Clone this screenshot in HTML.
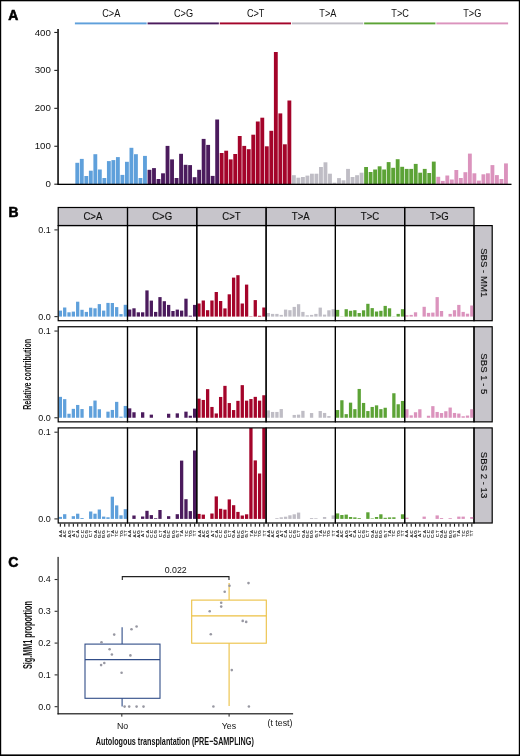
<!DOCTYPE html>
<html><head><meta charset="utf-8"><style>
html,body{margin:0;padding:0;background:#fff;}
svg{display:block;will-change:transform;}
text{font-family:"Liberation Sans", sans-serif;} .sk{stroke:#111;stroke-width:0.15px;}
</style></head><body>
<svg width="520" height="756" viewBox="0 0 520 756">
<rect x="0" y="0" width="520" height="756" fill="#fff"/>
<text x="8.3" y="20.0" font-size="13.9" text-anchor="start" font-weight="bold" fill="#000" stroke="#000" stroke-width="0.55">A</text>
<rect x="74.90" y="22.45" width="71.75" height="1.9" fill="#5fa0db"/>
<text x="111.3" y="16.7" font-size="10.2" text-anchor="middle" font-weight="normal" fill="#111" transform="translate(111.3 0) scale(0.9 1) translate(-111.3 0)">C&gt;A</text>
<rect x="75.35" y="162.80" width="3.85" height="21.40" fill="#5fa0db"/>
<rect x="79.86" y="158.90" width="3.85" height="25.30" fill="#5fa0db"/>
<rect x="84.38" y="176.00" width="3.85" height="8.20" fill="#5fa0db"/>
<rect x="88.89" y="170.70" width="3.85" height="13.50" fill="#5fa0db"/>
<rect x="93.40" y="154.20" width="3.85" height="30.00" fill="#5fa0db"/>
<rect x="97.91" y="169.50" width="3.85" height="14.70" fill="#5fa0db"/>
<rect x="102.43" y="178.00" width="3.85" height="6.20" fill="#5fa0db"/>
<rect x="106.94" y="161.10" width="3.85" height="23.10" fill="#5fa0db"/>
<rect x="111.45" y="160.10" width="3.85" height="24.10" fill="#5fa0db"/>
<rect x="115.96" y="157.10" width="3.85" height="27.10" fill="#5fa0db"/>
<rect x="120.48" y="174.90" width="3.85" height="9.30" fill="#5fa0db"/>
<rect x="124.99" y="161.80" width="3.85" height="22.40" fill="#5fa0db"/>
<rect x="129.50" y="147.80" width="3.85" height="36.40" fill="#5fa0db"/>
<rect x="134.01" y="154.20" width="3.85" height="30.00" fill="#5fa0db"/>
<rect x="138.53" y="178.00" width="3.85" height="6.20" fill="#5fa0db"/>
<rect x="143.04" y="155.90" width="3.85" height="28.30" fill="#5fa0db"/>
<rect x="147.55" y="22.45" width="71.30" height="1.9" fill="#4b1b5d"/>
<text x="183.5" y="16.7" font-size="10.2" text-anchor="middle" font-weight="normal" fill="#111" transform="translate(183.5 0) scale(0.9 1) translate(-183.5 0)">C&gt;G</text>
<rect x="147.55" y="169.80" width="3.85" height="14.40" fill="#4b1b5d"/>
<rect x="152.06" y="168.10" width="3.85" height="16.10" fill="#4b1b5d"/>
<rect x="156.58" y="179.00" width="3.85" height="5.20" fill="#4b1b5d"/>
<rect x="161.09" y="173.30" width="3.85" height="10.90" fill="#4b1b5d"/>
<rect x="165.60" y="145.90" width="3.85" height="38.30" fill="#4b1b5d"/>
<rect x="170.11" y="159.40" width="3.85" height="24.80" fill="#4b1b5d"/>
<rect x="174.63" y="178.00" width="3.85" height="6.20" fill="#4b1b5d"/>
<rect x="179.14" y="153.80" width="3.85" height="30.40" fill="#4b1b5d"/>
<rect x="183.65" y="164.80" width="3.85" height="19.40" fill="#4b1b5d"/>
<rect x="188.16" y="165.10" width="3.85" height="19.10" fill="#4b1b5d"/>
<rect x="192.68" y="177.20" width="3.85" height="7.00" fill="#4b1b5d"/>
<rect x="197.19" y="169.80" width="3.85" height="14.40" fill="#4b1b5d"/>
<rect x="201.70" y="138.90" width="3.85" height="45.30" fill="#4b1b5d"/>
<rect x="206.21" y="144.90" width="3.85" height="39.30" fill="#4b1b5d"/>
<rect x="210.73" y="175.90" width="3.85" height="8.30" fill="#4b1b5d"/>
<rect x="215.24" y="119.50" width="3.85" height="64.70" fill="#4b1b5d"/>
<rect x="219.75" y="22.45" width="71.30" height="1.9" fill="#a4042a"/>
<text x="255.7" y="16.7" font-size="10.2" text-anchor="middle" font-weight="normal" fill="#111" transform="translate(255.7 0) scale(0.9 1) translate(-255.7 0)">C&gt;T</text>
<rect x="219.75" y="153.00" width="3.85" height="31.20" fill="#a4042a"/>
<rect x="224.26" y="150.70" width="3.85" height="33.50" fill="#a4042a"/>
<rect x="228.78" y="159.40" width="3.85" height="24.80" fill="#a4042a"/>
<rect x="233.29" y="154.00" width="3.85" height="30.20" fill="#a4042a"/>
<rect x="237.80" y="136.00" width="3.85" height="48.20" fill="#a4042a"/>
<rect x="242.31" y="145.90" width="3.85" height="38.30" fill="#a4042a"/>
<rect x="246.83" y="149.20" width="3.85" height="35.00" fill="#a4042a"/>
<rect x="251.34" y="134.70" width="3.85" height="49.50" fill="#a4042a"/>
<rect x="255.85" y="121.50" width="3.85" height="62.70" fill="#a4042a"/>
<rect x="260.36" y="117.70" width="3.85" height="66.50" fill="#a4042a"/>
<rect x="264.88" y="146.30" width="3.85" height="37.90" fill="#a4042a"/>
<rect x="269.39" y="130.80" width="3.85" height="53.40" fill="#a4042a"/>
<rect x="273.90" y="52.00" width="3.85" height="132.20" fill="#a4042a"/>
<rect x="278.41" y="113.40" width="3.85" height="70.80" fill="#a4042a"/>
<rect x="282.93" y="144.30" width="3.85" height="39.90" fill="#a4042a"/>
<rect x="287.44" y="100.50" width="3.85" height="83.70" fill="#a4042a"/>
<rect x="291.95" y="22.45" width="71.30" height="1.9" fill="#bfbdc5"/>
<text x="327.9" y="16.7" font-size="10.2" text-anchor="middle" font-weight="normal" fill="#111" transform="translate(327.9 0) scale(0.9 1) translate(-327.9 0)">T&gt;A</text>
<rect x="291.95" y="175.20" width="3.85" height="9.00" fill="#bfbdc5"/>
<rect x="296.46" y="177.70" width="3.85" height="6.50" fill="#bfbdc5"/>
<rect x="300.98" y="177.00" width="3.85" height="7.20" fill="#bfbdc5"/>
<rect x="305.49" y="175.60" width="3.85" height="8.60" fill="#bfbdc5"/>
<rect x="310.00" y="173.70" width="3.85" height="10.50" fill="#bfbdc5"/>
<rect x="314.51" y="173.70" width="3.85" height="10.50" fill="#bfbdc5"/>
<rect x="319.03" y="167.00" width="3.85" height="17.20" fill="#bfbdc5"/>
<rect x="323.54" y="162.30" width="3.85" height="21.90" fill="#bfbdc5"/>
<rect x="328.05" y="173.70" width="3.85" height="10.50" fill="#bfbdc5"/>
<rect x="332.56" y="182.70" width="3.85" height="1.50" fill="#bfbdc5"/>
<rect x="337.08" y="178.10" width="3.85" height="6.10" fill="#bfbdc5"/>
<rect x="341.59" y="180.30" width="3.85" height="3.90" fill="#bfbdc5"/>
<rect x="346.10" y="168.90" width="3.85" height="15.30" fill="#bfbdc5"/>
<rect x="350.61" y="177.00" width="3.85" height="7.20" fill="#bfbdc5"/>
<rect x="355.13" y="175.20" width="3.85" height="9.00" fill="#bfbdc5"/>
<rect x="359.64" y="172.70" width="3.85" height="11.50" fill="#bfbdc5"/>
<rect x="364.15" y="22.45" width="71.30" height="1.9" fill="#5ca336"/>
<text x="400.1" y="16.7" font-size="10.2" text-anchor="middle" font-weight="normal" fill="#111" transform="translate(400.1 0) scale(0.9 1) translate(-400.1 0)">T&gt;C</text>
<rect x="364.15" y="167.00" width="3.85" height="17.20" fill="#5ca336"/>
<rect x="368.66" y="172.00" width="3.85" height="12.20" fill="#5ca336"/>
<rect x="373.18" y="169.50" width="3.85" height="14.70" fill="#5ca336"/>
<rect x="377.69" y="166.30" width="3.85" height="17.90" fill="#5ca336"/>
<rect x="382.20" y="169.50" width="3.85" height="14.70" fill="#5ca336"/>
<rect x="386.71" y="162.10" width="3.85" height="22.10" fill="#5ca336"/>
<rect x="391.23" y="167.80" width="3.85" height="16.40" fill="#5ca336"/>
<rect x="395.74" y="159.20" width="3.85" height="25.00" fill="#5ca336"/>
<rect x="400.25" y="166.80" width="3.85" height="17.40" fill="#5ca336"/>
<rect x="404.76" y="168.90" width="3.85" height="15.30" fill="#5ca336"/>
<rect x="409.28" y="168.90" width="3.85" height="15.30" fill="#5ca336"/>
<rect x="413.79" y="163.90" width="3.85" height="20.30" fill="#5ca336"/>
<rect x="418.30" y="172.70" width="3.85" height="11.50" fill="#5ca336"/>
<rect x="422.81" y="168.90" width="3.85" height="15.30" fill="#5ca336"/>
<rect x="427.33" y="173.00" width="3.85" height="11.20" fill="#5ca336"/>
<rect x="431.84" y="161.60" width="3.85" height="22.60" fill="#5ca336"/>
<rect x="436.35" y="22.45" width="71.75" height="1.9" fill="#db93bd"/>
<text x="472.3" y="16.7" font-size="10.2" text-anchor="middle" font-weight="normal" fill="#111" transform="translate(472.3 0) scale(0.9 1) translate(-472.3 0)">T&gt;G</text>
<rect x="436.35" y="176.80" width="3.85" height="7.40" fill="#db93bd"/>
<rect x="440.86" y="180.90" width="3.85" height="3.30" fill="#db93bd"/>
<rect x="445.38" y="175.50" width="3.85" height="8.70" fill="#db93bd"/>
<rect x="449.89" y="179.50" width="3.85" height="4.70" fill="#db93bd"/>
<rect x="454.40" y="170.00" width="3.85" height="14.20" fill="#db93bd"/>
<rect x="458.91" y="178.00" width="3.85" height="6.20" fill="#db93bd"/>
<rect x="463.43" y="172.20" width="3.85" height="12.00" fill="#db93bd"/>
<rect x="467.94" y="153.60" width="3.85" height="30.60" fill="#db93bd"/>
<rect x="472.45" y="173.30" width="3.85" height="10.90" fill="#db93bd"/>
<rect x="476.96" y="180.60" width="3.85" height="3.60" fill="#db93bd"/>
<rect x="481.48" y="174.30" width="3.85" height="9.90" fill="#db93bd"/>
<rect x="485.99" y="173.30" width="3.85" height="10.90" fill="#db93bd"/>
<rect x="490.50" y="165.10" width="3.85" height="19.10" fill="#db93bd"/>
<rect x="495.01" y="175.10" width="3.85" height="9.10" fill="#db93bd"/>
<rect x="499.53" y="179.00" width="3.85" height="5.20" fill="#db93bd"/>
<rect x="504.04" y="163.40" width="3.85" height="20.80" fill="#db93bd"/>
<rect x="57.3" y="29" width="1.5" height="156" fill="#000"/>
<rect x="57.3" y="183.7" width="454.2" height="1.3" fill="#000"/>
<rect x="54.3" y="183.65" width="3.5" height="1.1" fill="#222"/>
<text x="50.8" y="187.3" font-size="9.7" text-anchor="end" font-weight="normal" fill="#111" >0</text>
<rect x="54.3" y="145.71" width="3.5" height="1.1" fill="#222"/>
<text x="50.8" y="149.36" font-size="9.7" text-anchor="end" font-weight="normal" fill="#111" >100</text>
<rect x="54.3" y="107.78" width="3.5" height="1.1" fill="#222"/>
<text x="50.8" y="111.43" font-size="9.7" text-anchor="end" font-weight="normal" fill="#111" >200</text>
<rect x="54.3" y="69.84" width="3.5" height="1.1" fill="#222"/>
<text x="50.8" y="73.49" font-size="9.7" text-anchor="end" font-weight="normal" fill="#111" >300</text>
<rect x="54.3" y="31.91" width="3.5" height="1.1" fill="#222"/>
<text x="50.8" y="35.56" font-size="9.7" text-anchor="end" font-weight="normal" fill="#111" >400</text>
<text x="8.6" y="216.7" font-size="13.9" text-anchor="start" font-weight="bold" fill="#000" stroke="#000" stroke-width="0.55">B</text>
<rect x="58.2" y="207.5" width="415.79999999999995" height="18" fill="#c7c5cb"/>
<text class="sk" x="92.85" y="219.7" font-size="10.2" text-anchor="middle" font-weight="normal" fill="#111" transform="translate(92.85 0) scale(0.94 1) translate(-92.85 0)">C&gt;A</text>
<text class="sk" x="162.15" y="219.7" font-size="10.2" text-anchor="middle" font-weight="normal" fill="#111" transform="translate(162.15 0) scale(0.94 1) translate(-162.15 0)">C&gt;G</text>
<text class="sk" x="231.45" y="219.7" font-size="10.2" text-anchor="middle" font-weight="normal" fill="#111" transform="translate(231.45 0) scale(0.94 1) translate(-231.45 0)">C&gt;T</text>
<text class="sk" x="300.75" y="219.7" font-size="10.2" text-anchor="middle" font-weight="normal" fill="#111" transform="translate(300.75 0) scale(0.94 1) translate(-300.75 0)">T&gt;A</text>
<text class="sk" x="370.05" y="219.7" font-size="10.2" text-anchor="middle" font-weight="normal" fill="#111" transform="translate(370.05 0) scale(0.94 1) translate(-370.05 0)">T&gt;C</text>
<text class="sk" x="439.35" y="219.7" font-size="10.2" text-anchor="middle" font-weight="normal" fill="#111" transform="translate(439.35 0) scale(0.94 1) translate(-439.35 0)">T&gt;G</text>
<rect x="474.00" y="225.6" width="18.2" height="95.1" fill="#c7c5cb" stroke="#000" stroke-width="1.2"/>
<text x="483.10" y="272.75" font-size="9.6" text-anchor="middle" fill="#111" class="sk" transform="rotate(90 483.10 272.75)" dy="2.6">SBS - MM1</text>
<clipPath id="cp0"><rect x="58.2" y="225.6" width="415.79999999999995" height="95.1"/></clipPath>
<g clip-path="url(#cp0)">
<rect x="58.72" y="310.60" width="3.29" height="6.00" fill="#5fa0db"/>
<rect x="63.05" y="307.50" width="3.29" height="9.10" fill="#5fa0db"/>
<rect x="67.38" y="312.30" width="3.29" height="4.30" fill="#5fa0db"/>
<rect x="71.71" y="311.60" width="3.29" height="5.00" fill="#5fa0db"/>
<rect x="76.04" y="301.70" width="3.29" height="14.90" fill="#5fa0db"/>
<rect x="80.38" y="309.80" width="3.29" height="6.80" fill="#5fa0db"/>
<rect x="84.71" y="311.90" width="3.29" height="4.70" fill="#5fa0db"/>
<rect x="89.04" y="307.70" width="3.29" height="8.90" fill="#5fa0db"/>
<rect x="93.37" y="308.30" width="3.29" height="8.30" fill="#5fa0db"/>
<rect x="97.70" y="304.10" width="3.29" height="12.50" fill="#5fa0db"/>
<rect x="102.03" y="310.60" width="3.29" height="6.00" fill="#5fa0db"/>
<rect x="106.36" y="302.90" width="3.29" height="13.70" fill="#5fa0db"/>
<rect x="110.69" y="303.00" width="3.29" height="13.60" fill="#5fa0db"/>
<rect x="115.03" y="307.10" width="3.29" height="9.50" fill="#5fa0db"/>
<rect x="119.36" y="314.10" width="3.29" height="2.50" fill="#5fa0db"/>
<rect x="123.69" y="304.80" width="3.29" height="11.80" fill="#5fa0db"/>
<rect x="128.02" y="309.50" width="3.29" height="7.10" fill="#4b1b5d"/>
<rect x="132.35" y="308.30" width="3.29" height="8.30" fill="#4b1b5d"/>
<rect x="136.68" y="312.30" width="3.29" height="4.30" fill="#4b1b5d"/>
<rect x="141.01" y="312.30" width="3.29" height="4.30" fill="#4b1b5d"/>
<rect x="145.34" y="290.40" width="3.29" height="26.20" fill="#4b1b5d"/>
<rect x="149.68" y="300.60" width="3.29" height="16.00" fill="#4b1b5d"/>
<rect x="154.01" y="311.90" width="3.29" height="4.70" fill="#4b1b5d"/>
<rect x="158.34" y="297.10" width="3.29" height="19.50" fill="#4b1b5d"/>
<rect x="162.67" y="301.20" width="3.29" height="15.40" fill="#4b1b5d"/>
<rect x="167.00" y="304.90" width="3.29" height="11.70" fill="#4b1b5d"/>
<rect x="171.33" y="311.00" width="3.29" height="5.60" fill="#4b1b5d"/>
<rect x="175.66" y="309.60" width="3.29" height="7.00" fill="#4b1b5d"/>
<rect x="179.99" y="310.60" width="3.29" height="6.00" fill="#4b1b5d"/>
<rect x="184.33" y="298.70" width="3.29" height="17.90" fill="#4b1b5d"/>
<rect x="188.66" y="315.70" width="3.29" height="0.90" fill="#4b1b5d"/>
<rect x="192.99" y="304.90" width="3.29" height="11.70" fill="#4b1b5d"/>
<rect x="197.32" y="303.50" width="3.29" height="13.10" fill="#a4042a"/>
<rect x="201.65" y="300.50" width="3.29" height="16.10" fill="#a4042a"/>
<rect x="205.98" y="310.20" width="3.29" height="6.40" fill="#a4042a"/>
<rect x="210.31" y="300.50" width="3.29" height="16.10" fill="#a4042a"/>
<rect x="214.64" y="292.00" width="3.29" height="24.60" fill="#a4042a"/>
<rect x="218.98" y="301.00" width="3.29" height="15.60" fill="#a4042a"/>
<rect x="223.31" y="308.40" width="3.29" height="8.20" fill="#a4042a"/>
<rect x="227.64" y="294.30" width="3.29" height="22.30" fill="#a4042a"/>
<rect x="231.97" y="277.60" width="3.29" height="39.00" fill="#a4042a"/>
<rect x="236.30" y="275.20" width="3.29" height="41.40" fill="#a4042a"/>
<rect x="240.63" y="303.50" width="3.29" height="13.10" fill="#a4042a"/>
<rect x="244.96" y="284.60" width="3.29" height="32.00" fill="#a4042a"/>
<rect x="249.29" y="316.30" width="3.29" height="0.30" fill="#a4042a"/>
<rect x="253.63" y="300.10" width="3.29" height="16.50" fill="#a4042a"/>
<rect x="257.96" y="315.80" width="3.29" height="0.80" fill="#a4042a"/>
<rect x="262.29" y="307.50" width="3.29" height="9.10" fill="#a4042a"/>
<rect x="266.62" y="313.00" width="3.29" height="3.60" fill="#bfbdc5"/>
<rect x="270.95" y="313.90" width="3.29" height="2.70" fill="#bfbdc5"/>
<rect x="275.28" y="313.90" width="3.29" height="2.70" fill="#bfbdc5"/>
<rect x="279.61" y="314.90" width="3.29" height="1.70" fill="#bfbdc5"/>
<rect x="283.94" y="309.60" width="3.29" height="7.00" fill="#bfbdc5"/>
<rect x="288.28" y="310.20" width="3.29" height="6.40" fill="#bfbdc5"/>
<rect x="292.61" y="306.90" width="3.29" height="9.70" fill="#bfbdc5"/>
<rect x="296.94" y="304.20" width="3.29" height="12.40" fill="#bfbdc5"/>
<rect x="301.27" y="311.90" width="3.29" height="4.70" fill="#bfbdc5"/>
<rect x="305.60" y="315.30" width="3.29" height="1.30" fill="#bfbdc5"/>
<rect x="309.93" y="314.90" width="3.29" height="1.70" fill="#bfbdc5"/>
<rect x="314.26" y="313.90" width="3.29" height="2.70" fill="#bfbdc5"/>
<rect x="318.59" y="307.60" width="3.29" height="9.00" fill="#bfbdc5"/>
<rect x="322.93" y="314.60" width="3.29" height="2.00" fill="#bfbdc5"/>
<rect x="327.26" y="310.30" width="3.29" height="6.30" fill="#bfbdc5"/>
<rect x="331.59" y="309.20" width="3.29" height="7.40" fill="#bfbdc5"/>
<rect x="335.92" y="309.90" width="3.29" height="6.70" fill="#5ca336"/>
<rect x="340.25" y="316.40" width="3.29" height="0.20" fill="#5ca336"/>
<rect x="344.58" y="309.20" width="3.29" height="7.40" fill="#5ca336"/>
<rect x="348.91" y="310.80" width="3.29" height="5.80" fill="#5ca336"/>
<rect x="353.24" y="310.20" width="3.29" height="6.40" fill="#5ca336"/>
<rect x="357.58" y="313.00" width="3.29" height="3.60" fill="#5ca336"/>
<rect x="361.91" y="310.30" width="3.29" height="6.30" fill="#5ca336"/>
<rect x="366.24" y="303.80" width="3.29" height="12.80" fill="#5ca336"/>
<rect x="370.57" y="308.10" width="3.29" height="8.50" fill="#5ca336"/>
<rect x="374.90" y="311.50" width="3.29" height="5.10" fill="#5ca336"/>
<rect x="379.23" y="310.80" width="3.29" height="5.80" fill="#5ca336"/>
<rect x="383.56" y="305.90" width="3.29" height="10.70" fill="#5ca336"/>
<rect x="387.89" y="308.30" width="3.29" height="8.30" fill="#5ca336"/>
<rect x="392.23" y="316.40" width="3.29" height="0.20" fill="#5ca336"/>
<rect x="396.56" y="313.90" width="3.29" height="2.70" fill="#5ca336"/>
<rect x="400.89" y="309.20" width="3.29" height="7.40" fill="#5ca336"/>
<rect x="405.22" y="315.30" width="3.29" height="1.30" fill="#db93bd"/>
<rect x="409.55" y="314.90" width="3.29" height="1.70" fill="#db93bd"/>
<rect x="413.88" y="312.30" width="3.29" height="4.30" fill="#db93bd"/>
<rect x="422.54" y="306.80" width="3.29" height="9.80" fill="#db93bd"/>
<rect x="426.88" y="312.90" width="3.29" height="3.70" fill="#db93bd"/>
<rect x="431.21" y="312.60" width="3.29" height="4.00" fill="#db93bd"/>
<rect x="435.54" y="297.10" width="3.29" height="19.50" fill="#db93bd"/>
<rect x="439.87" y="311.00" width="3.29" height="5.60" fill="#db93bd"/>
<rect x="448.53" y="313.90" width="3.29" height="2.70" fill="#db93bd"/>
<rect x="452.86" y="310.20" width="3.29" height="6.40" fill="#db93bd"/>
<rect x="457.19" y="304.90" width="3.29" height="11.70" fill="#db93bd"/>
<rect x="461.53" y="311.90" width="3.29" height="4.70" fill="#db93bd"/>
<rect x="465.86" y="313.70" width="3.29" height="2.90" fill="#db93bd"/>
<rect x="470.19" y="305.50" width="3.29" height="11.10" fill="#db93bd"/>
</g>
<rect x="58.20" y="225.6" width="69.30" height="95.1" fill="none" stroke="#000" stroke-width="1.2"/>
<rect x="127.50" y="225.6" width="69.30" height="95.1" fill="none" stroke="#000" stroke-width="1.2"/>
<rect x="196.80" y="225.6" width="69.30" height="95.1" fill="none" stroke="#000" stroke-width="1.2"/>
<rect x="266.10" y="225.6" width="69.30" height="95.1" fill="none" stroke="#000" stroke-width="1.2"/>
<rect x="335.40" y="225.6" width="69.30" height="95.1" fill="none" stroke="#000" stroke-width="1.2"/>
<rect x="404.70" y="225.6" width="69.30" height="95.1" fill="none" stroke="#000" stroke-width="1.2"/>
<rect x="54.4" y="229.35" width="3.4" height="1.1" fill="#333"/>
<text x="50.8" y="232.8" font-size="9" text-anchor="end" font-weight="normal" fill="#111" >0.1</text>
<rect x="54.4" y="316.05" width="3.4" height="1.1" fill="#333"/>
<text x="50.8" y="319.5" font-size="9" text-anchor="end" font-weight="normal" fill="#111" >0.0</text>
<rect x="474.00" y="326.75" width="18.2" height="95.1" fill="#c7c5cb" stroke="#000" stroke-width="1.2"/>
<text x="483.10" y="373.90" font-size="9.6" text-anchor="middle" fill="#111" class="sk" transform="rotate(90 483.10 373.90)" dy="2.6">SBS 1 - 5</text>
<clipPath id="cp1"><rect x="58.2" y="326.75" width="415.79999999999995" height="95.1"/></clipPath>
<g clip-path="url(#cp1)">
<rect x="58.72" y="396.85" width="3.29" height="20.90" fill="#5fa0db"/>
<rect x="63.05" y="399.15" width="3.29" height="18.60" fill="#5fa0db"/>
<rect x="67.38" y="413.75" width="3.29" height="4.00" fill="#5fa0db"/>
<rect x="71.71" y="408.85" width="3.29" height="8.90" fill="#5fa0db"/>
<rect x="76.04" y="404.95" width="3.29" height="12.80" fill="#5fa0db"/>
<rect x="80.38" y="409.05" width="3.29" height="8.70" fill="#5fa0db"/>
<rect x="89.04" y="406.15" width="3.29" height="11.60" fill="#5fa0db"/>
<rect x="93.37" y="400.55" width="3.29" height="17.20" fill="#5fa0db"/>
<rect x="97.70" y="409.25" width="3.29" height="8.50" fill="#5fa0db"/>
<rect x="106.36" y="411.65" width="3.29" height="6.10" fill="#5fa0db"/>
<rect x="110.69" y="409.95" width="3.29" height="7.80" fill="#5fa0db"/>
<rect x="115.03" y="401.85" width="3.29" height="15.90" fill="#5fa0db"/>
<rect x="119.36" y="416.65" width="3.29" height="1.10" fill="#5fa0db"/>
<rect x="123.69" y="405.95" width="3.29" height="11.80" fill="#5fa0db"/>
<rect x="128.02" y="408.35" width="3.29" height="9.40" fill="#4b1b5d"/>
<rect x="132.35" y="412.25" width="3.29" height="5.50" fill="#4b1b5d"/>
<rect x="141.01" y="412.25" width="3.29" height="5.50" fill="#4b1b5d"/>
<rect x="149.68" y="414.65" width="3.29" height="3.10" fill="#4b1b5d"/>
<rect x="167.00" y="413.75" width="3.29" height="4.00" fill="#4b1b5d"/>
<rect x="175.66" y="413.35" width="3.29" height="4.40" fill="#4b1b5d"/>
<rect x="184.33" y="411.65" width="3.29" height="6.10" fill="#4b1b5d"/>
<rect x="188.66" y="415.75" width="3.29" height="2.00" fill="#4b1b5d"/>
<rect x="192.99" y="408.65" width="3.29" height="9.10" fill="#4b1b5d"/>
<rect x="197.32" y="398.65" width="3.29" height="19.10" fill="#a4042a"/>
<rect x="201.65" y="399.95" width="3.29" height="17.80" fill="#a4042a"/>
<rect x="205.98" y="389.15" width="3.29" height="28.60" fill="#a4042a"/>
<rect x="210.31" y="406.95" width="3.29" height="10.80" fill="#a4042a"/>
<rect x="214.64" y="413.45" width="3.29" height="4.30" fill="#a4042a"/>
<rect x="218.98" y="396.95" width="3.29" height="20.80" fill="#a4042a"/>
<rect x="223.31" y="385.85" width="3.29" height="31.90" fill="#a4042a"/>
<rect x="227.64" y="403.05" width="3.29" height="14.70" fill="#a4042a"/>
<rect x="231.97" y="410.05" width="3.29" height="7.70" fill="#a4042a"/>
<rect x="236.30" y="400.85" width="3.29" height="16.90" fill="#a4042a"/>
<rect x="240.63" y="385.15" width="3.29" height="32.60" fill="#a4042a"/>
<rect x="244.96" y="400.65" width="3.29" height="17.10" fill="#a4042a"/>
<rect x="249.29" y="399.05" width="3.29" height="18.70" fill="#a4042a"/>
<rect x="253.63" y="396.85" width="3.29" height="20.90" fill="#a4042a"/>
<rect x="257.96" y="400.65" width="3.29" height="17.10" fill="#a4042a"/>
<rect x="262.29" y="395.25" width="3.29" height="22.50" fill="#a4042a"/>
<rect x="266.62" y="410.35" width="3.29" height="7.40" fill="#bfbdc5"/>
<rect x="270.95" y="411.95" width="3.29" height="5.80" fill="#bfbdc5"/>
<rect x="275.28" y="411.95" width="3.29" height="5.80" fill="#bfbdc5"/>
<rect x="279.61" y="409.05" width="3.29" height="8.70" fill="#bfbdc5"/>
<rect x="292.61" y="414.95" width="3.29" height="2.80" fill="#bfbdc5"/>
<rect x="296.94" y="414.65" width="3.29" height="3.10" fill="#bfbdc5"/>
<rect x="301.27" y="410.85" width="3.29" height="6.90" fill="#bfbdc5"/>
<rect x="309.93" y="413.05" width="3.29" height="4.70" fill="#bfbdc5"/>
<rect x="318.59" y="411.05" width="3.29" height="6.70" fill="#bfbdc5"/>
<rect x="322.93" y="412.95" width="3.29" height="4.80" fill="#bfbdc5"/>
<rect x="327.26" y="416.05" width="3.29" height="1.70" fill="#bfbdc5"/>
<rect x="335.92" y="410.05" width="3.29" height="7.70" fill="#5ca336"/>
<rect x="340.25" y="400.25" width="3.29" height="17.50" fill="#5ca336"/>
<rect x="344.58" y="414.15" width="3.29" height="3.60" fill="#5ca336"/>
<rect x="348.91" y="402.65" width="3.29" height="15.10" fill="#5ca336"/>
<rect x="353.24" y="409.15" width="3.29" height="8.60" fill="#5ca336"/>
<rect x="357.58" y="388.95" width="3.29" height="28.80" fill="#5ca336"/>
<rect x="361.91" y="402.95" width="3.29" height="14.80" fill="#5ca336"/>
<rect x="366.24" y="411.05" width="3.29" height="6.70" fill="#5ca336"/>
<rect x="370.57" y="406.95" width="3.29" height="10.80" fill="#5ca336"/>
<rect x="374.90" y="405.35" width="3.29" height="12.40" fill="#5ca336"/>
<rect x="379.23" y="409.15" width="3.29" height="8.60" fill="#5ca336"/>
<rect x="383.56" y="407.75" width="3.29" height="10.00" fill="#5ca336"/>
<rect x="392.23" y="393.25" width="3.29" height="24.50" fill="#5ca336"/>
<rect x="396.56" y="404.25" width="3.29" height="13.50" fill="#5ca336"/>
<rect x="400.89" y="400.95" width="3.29" height="16.80" fill="#5ca336"/>
<rect x="405.22" y="409.25" width="3.29" height="8.50" fill="#db93bd"/>
<rect x="409.55" y="415.35" width="3.29" height="2.40" fill="#db93bd"/>
<rect x="413.88" y="412.25" width="3.29" height="5.50" fill="#db93bd"/>
<rect x="418.21" y="409.25" width="3.29" height="8.50" fill="#db93bd"/>
<rect x="426.88" y="415.75" width="3.29" height="2.00" fill="#db93bd"/>
<rect x="431.21" y="406.15" width="3.29" height="11.60" fill="#db93bd"/>
<rect x="435.54" y="411.95" width="3.29" height="5.80" fill="#db93bd"/>
<rect x="439.87" y="413.05" width="3.29" height="4.70" fill="#db93bd"/>
<rect x="444.20" y="411.25" width="3.29" height="6.50" fill="#db93bd"/>
<rect x="448.53" y="407.55" width="3.29" height="10.20" fill="#db93bd"/>
<rect x="452.86" y="412.95" width="3.29" height="4.80" fill="#db93bd"/>
<rect x="457.19" y="413.55" width="3.29" height="4.20" fill="#db93bd"/>
<rect x="461.53" y="416.25" width="3.29" height="1.50" fill="#db93bd"/>
<rect x="465.86" y="415.55" width="3.29" height="2.20" fill="#db93bd"/>
<rect x="470.19" y="409.25" width="3.29" height="8.50" fill="#db93bd"/>
</g>
<rect x="58.20" y="326.75" width="69.30" height="95.1" fill="none" stroke="#000" stroke-width="1.2"/>
<rect x="127.50" y="326.75" width="69.30" height="95.1" fill="none" stroke="#000" stroke-width="1.2"/>
<rect x="196.80" y="326.75" width="69.30" height="95.1" fill="none" stroke="#000" stroke-width="1.2"/>
<rect x="266.10" y="326.75" width="69.30" height="95.1" fill="none" stroke="#000" stroke-width="1.2"/>
<rect x="335.40" y="326.75" width="69.30" height="95.1" fill="none" stroke="#000" stroke-width="1.2"/>
<rect x="404.70" y="326.75" width="69.30" height="95.1" fill="none" stroke="#000" stroke-width="1.2"/>
<rect x="54.4" y="330.50" width="3.4" height="1.1" fill="#333"/>
<text x="50.8" y="333.95" font-size="9" text-anchor="end" font-weight="normal" fill="#111" >0.1</text>
<rect x="54.4" y="417.20" width="3.4" height="1.1" fill="#333"/>
<text x="50.8" y="420.65" font-size="9" text-anchor="end" font-weight="normal" fill="#111" >0.0</text>
<rect x="474.00" y="427.9" width="18.2" height="95.1" fill="#c7c5cb" stroke="#000" stroke-width="1.2"/>
<text x="483.10" y="475.05" font-size="9.6" text-anchor="middle" fill="#111" class="sk" transform="rotate(90 483.10 475.05)" dy="2.6">SBS 2 - 13</text>
<clipPath id="cp2"><rect x="58.2" y="427.9" width="415.79999999999995" height="95.1"/></clipPath>
<g clip-path="url(#cp2)">
<rect x="58.72" y="516.90" width="3.29" height="2.00" fill="#5fa0db"/>
<rect x="63.05" y="514.20" width="3.29" height="4.70" fill="#5fa0db"/>
<rect x="71.71" y="516.20" width="3.29" height="2.70" fill="#5fa0db"/>
<rect x="76.04" y="513.70" width="3.29" height="5.20" fill="#5fa0db"/>
<rect x="80.38" y="518.00" width="3.29" height="0.90" fill="#5fa0db"/>
<rect x="89.04" y="511.50" width="3.29" height="7.40" fill="#5fa0db"/>
<rect x="93.37" y="513.70" width="3.29" height="5.20" fill="#5fa0db"/>
<rect x="97.70" y="509.50" width="3.29" height="9.40" fill="#5fa0db"/>
<rect x="102.03" y="516.60" width="3.29" height="2.30" fill="#5fa0db"/>
<rect x="106.36" y="517.30" width="3.29" height="1.60" fill="#5fa0db"/>
<rect x="110.69" y="496.70" width="3.29" height="22.20" fill="#5fa0db"/>
<rect x="115.03" y="505.40" width="3.29" height="13.50" fill="#5fa0db"/>
<rect x="119.36" y="515.30" width="3.29" height="3.60" fill="#5fa0db"/>
<rect x="123.69" y="509.20" width="3.29" height="9.70" fill="#5fa0db"/>
<rect x="132.35" y="515.50" width="3.29" height="3.40" fill="#4b1b5d"/>
<rect x="141.01" y="516.50" width="3.29" height="2.40" fill="#4b1b5d"/>
<rect x="145.34" y="510.80" width="3.29" height="8.10" fill="#4b1b5d"/>
<rect x="149.68" y="515.10" width="3.29" height="3.80" fill="#4b1b5d"/>
<rect x="154.01" y="518.20" width="3.29" height="0.70" fill="#4b1b5d"/>
<rect x="158.34" y="510.00" width="3.29" height="8.90" fill="#4b1b5d"/>
<rect x="167.00" y="516.20" width="3.29" height="2.70" fill="#4b1b5d"/>
<rect x="175.66" y="514.20" width="3.29" height="4.70" fill="#4b1b5d"/>
<rect x="179.99" y="460.60" width="3.29" height="58.30" fill="#4b1b5d"/>
<rect x="184.33" y="499.20" width="3.29" height="19.70" fill="#4b1b5d"/>
<rect x="188.66" y="511.10" width="3.29" height="7.80" fill="#4b1b5d"/>
<rect x="192.99" y="450.50" width="3.29" height="68.40" fill="#4b1b5d"/>
<rect x="197.32" y="513.90" width="3.29" height="5.00" fill="#a4042a"/>
<rect x="201.65" y="514.60" width="3.29" height="4.30" fill="#a4042a"/>
<rect x="210.31" y="513.50" width="3.29" height="5.40" fill="#a4042a"/>
<rect x="214.64" y="496.40" width="3.29" height="22.50" fill="#a4042a"/>
<rect x="218.98" y="508.80" width="3.29" height="10.10" fill="#a4042a"/>
<rect x="223.31" y="509.60" width="3.29" height="9.30" fill="#a4042a"/>
<rect x="227.64" y="499.40" width="3.29" height="19.50" fill="#a4042a"/>
<rect x="231.97" y="505.20" width="3.29" height="13.70" fill="#a4042a"/>
<rect x="236.30" y="511.90" width="3.29" height="7.00" fill="#a4042a"/>
<rect x="240.63" y="515.50" width="3.29" height="3.40" fill="#a4042a"/>
<rect x="244.96" y="514.30" width="3.29" height="4.60" fill="#a4042a"/>
<rect x="249.29" y="318.90" width="3.29" height="200.00" fill="#a4042a"/>
<rect x="253.63" y="460.40" width="3.29" height="58.50" fill="#a4042a"/>
<rect x="257.96" y="473.50" width="3.29" height="45.40" fill="#a4042a"/>
<rect x="262.29" y="318.90" width="3.29" height="200.00" fill="#a4042a"/>
<rect x="275.28" y="518.10" width="3.29" height="0.80" fill="#bfbdc5"/>
<rect x="279.61" y="517.30" width="3.29" height="1.60" fill="#bfbdc5"/>
<rect x="283.94" y="516.70" width="3.29" height="2.20" fill="#bfbdc5"/>
<rect x="288.28" y="515.30" width="3.29" height="3.60" fill="#bfbdc5"/>
<rect x="292.61" y="514.30" width="3.29" height="4.60" fill="#bfbdc5"/>
<rect x="296.94" y="512.60" width="3.29" height="6.30" fill="#bfbdc5"/>
<rect x="309.93" y="518.00" width="3.29" height="0.90" fill="#bfbdc5"/>
<rect x="314.26" y="518.20" width="3.29" height="0.70" fill="#bfbdc5"/>
<rect x="322.93" y="517.00" width="3.29" height="1.90" fill="#bfbdc5"/>
<rect x="331.59" y="515.40" width="3.29" height="3.50" fill="#bfbdc5"/>
<rect x="335.92" y="513.40" width="3.29" height="5.50" fill="#5ca336"/>
<rect x="340.25" y="515.00" width="3.29" height="3.90" fill="#5ca336"/>
<rect x="344.58" y="514.60" width="3.29" height="4.30" fill="#5ca336"/>
<rect x="348.91" y="517.00" width="3.29" height="1.90" fill="#5ca336"/>
<rect x="353.24" y="517.40" width="3.29" height="1.50" fill="#5ca336"/>
<rect x="357.58" y="518.10" width="3.29" height="0.80" fill="#5ca336"/>
<rect x="366.24" y="512.30" width="3.29" height="6.60" fill="#5ca336"/>
<rect x="370.57" y="518.40" width="3.29" height="0.50" fill="#5ca336"/>
<rect x="374.90" y="517.00" width="3.29" height="1.90" fill="#5ca336"/>
<rect x="379.23" y="514.30" width="3.29" height="4.60" fill="#5ca336"/>
<rect x="383.56" y="517.80" width="3.29" height="1.10" fill="#5ca336"/>
<rect x="387.89" y="517.40" width="3.29" height="1.50" fill="#5ca336"/>
<rect x="392.23" y="517.30" width="3.29" height="1.60" fill="#5ca336"/>
<rect x="400.89" y="514.30" width="3.29" height="4.60" fill="#5ca336"/>
<rect x="405.22" y="517.70" width="3.29" height="1.20" fill="#db93bd"/>
<rect x="422.54" y="516.60" width="3.29" height="2.30" fill="#db93bd"/>
<rect x="435.54" y="515.40" width="3.29" height="3.50" fill="#db93bd"/>
<rect x="439.87" y="518.00" width="3.29" height="0.90" fill="#db93bd"/>
<rect x="448.53" y="518.10" width="3.29" height="0.80" fill="#db93bd"/>
<rect x="457.19" y="516.60" width="3.29" height="2.30" fill="#db93bd"/>
<rect x="461.53" y="516.60" width="3.29" height="2.30" fill="#db93bd"/>
<rect x="470.19" y="517.00" width="3.29" height="1.90" fill="#db93bd"/>
</g>
<rect x="58.20" y="427.9" width="69.30" height="95.1" fill="none" stroke="#000" stroke-width="1.2"/>
<rect x="127.50" y="427.9" width="69.30" height="95.1" fill="none" stroke="#000" stroke-width="1.2"/>
<rect x="196.80" y="427.9" width="69.30" height="95.1" fill="none" stroke="#000" stroke-width="1.2"/>
<rect x="266.10" y="427.9" width="69.30" height="95.1" fill="none" stroke="#000" stroke-width="1.2"/>
<rect x="335.40" y="427.9" width="69.30" height="95.1" fill="none" stroke="#000" stroke-width="1.2"/>
<rect x="404.70" y="427.9" width="69.30" height="95.1" fill="none" stroke="#000" stroke-width="1.2"/>
<rect x="54.4" y="431.65" width="3.4" height="1.1" fill="#333"/>
<text x="50.8" y="435.1" font-size="9" text-anchor="end" font-weight="normal" fill="#111" >0.1</text>
<rect x="54.4" y="518.35" width="3.4" height="1.1" fill="#333"/>
<text x="50.8" y="521.8" font-size="9" text-anchor="end" font-weight="normal" fill="#111" >0.0</text>
<rect x="58.20" y="207.5" width="69.30" height="18" fill="none" stroke="#000" stroke-width="1.2"/>
<rect x="127.50" y="207.5" width="69.30" height="18" fill="none" stroke="#000" stroke-width="1.2"/>
<rect x="196.80" y="207.5" width="69.30" height="18" fill="none" stroke="#000" stroke-width="1.2"/>
<rect x="266.10" y="207.5" width="69.30" height="18" fill="none" stroke="#000" stroke-width="1.2"/>
<rect x="335.40" y="207.5" width="69.30" height="18" fill="none" stroke="#000" stroke-width="1.2"/>
<rect x="404.70" y="207.5" width="69.30" height="18" fill="none" stroke="#000" stroke-width="1.2"/>
<text x="31.4" y="374.3" font-size="11.2" font-weight="bold" text-anchor="middle" fill="#111" transform="rotate(-90 31.4 374.3)" dy="0" textLength="71" lengthAdjust="spacingAndGlyphs">Relative contribution</text>
<rect x="59.82" y="523.60" width="1.1" height="3.1" fill="#1a1a1a"/>
<text x="0" y="0" font-size="10" text-anchor="end" fill="#111" stroke="#111" stroke-width="0.25" transform="translate(60.37 530.20) rotate(-90) scale(0.44)" dy="3.6">A.A</text>
<rect x="64.15" y="523.60" width="1.1" height="3.1" fill="#1a1a1a"/>
<text x="0" y="0" font-size="10" text-anchor="end" fill="#111" stroke="#111" stroke-width="0.25" transform="translate(64.70 530.20) rotate(-90) scale(0.44)" dy="3.6">A.C</text>
<rect x="68.48" y="523.60" width="1.1" height="3.1" fill="#1a1a1a"/>
<text x="0" y="0" font-size="10" text-anchor="end" fill="#111" stroke="#111" stroke-width="0.25" transform="translate(69.03 530.20) rotate(-90) scale(0.44)" dy="3.6">A.G</text>
<rect x="72.81" y="523.60" width="1.1" height="3.1" fill="#1a1a1a"/>
<text x="0" y="0" font-size="10" text-anchor="end" fill="#111" stroke="#111" stroke-width="0.25" transform="translate(73.36 530.20) rotate(-90) scale(0.44)" dy="3.6">A.T</text>
<rect x="77.14" y="523.60" width="1.1" height="3.1" fill="#1a1a1a"/>
<text x="0" y="0" font-size="10" text-anchor="end" fill="#111" stroke="#111" stroke-width="0.25" transform="translate(77.69 530.20) rotate(-90) scale(0.44)" dy="3.6">C.A</text>
<rect x="81.47" y="523.60" width="1.1" height="3.1" fill="#1a1a1a"/>
<text x="0" y="0" font-size="10" text-anchor="end" fill="#111" stroke="#111" stroke-width="0.25" transform="translate(82.02 530.20) rotate(-90) scale(0.44)" dy="3.6">C.C</text>
<rect x="85.80" y="523.60" width="1.1" height="3.1" fill="#1a1a1a"/>
<text x="0" y="0" font-size="10" text-anchor="end" fill="#111" stroke="#111" stroke-width="0.25" transform="translate(86.35 530.20) rotate(-90) scale(0.44)" dy="3.6">C.G</text>
<rect x="90.13" y="523.60" width="1.1" height="3.1" fill="#1a1a1a"/>
<text x="0" y="0" font-size="10" text-anchor="end" fill="#111" stroke="#111" stroke-width="0.25" transform="translate(90.68 530.20) rotate(-90) scale(0.44)" dy="3.6">C.T</text>
<rect x="94.47" y="523.60" width="1.1" height="3.1" fill="#1a1a1a"/>
<text x="0" y="0" font-size="10" text-anchor="end" fill="#111" stroke="#111" stroke-width="0.25" transform="translate(95.02 530.20) rotate(-90) scale(0.44)" dy="3.6">G.A</text>
<rect x="98.80" y="523.60" width="1.1" height="3.1" fill="#1a1a1a"/>
<text x="0" y="0" font-size="10" text-anchor="end" fill="#111" stroke="#111" stroke-width="0.25" transform="translate(99.35 530.20) rotate(-90) scale(0.44)" dy="3.6">G.C</text>
<rect x="103.13" y="523.60" width="1.1" height="3.1" fill="#1a1a1a"/>
<text x="0" y="0" font-size="10" text-anchor="end" fill="#111" stroke="#111" stroke-width="0.25" transform="translate(103.68 530.20) rotate(-90) scale(0.44)" dy="3.6">G.G</text>
<rect x="107.46" y="523.60" width="1.1" height="3.1" fill="#1a1a1a"/>
<text x="0" y="0" font-size="10" text-anchor="end" fill="#111" stroke="#111" stroke-width="0.25" transform="translate(108.01 530.20) rotate(-90) scale(0.44)" dy="3.6">G.T</text>
<rect x="111.79" y="523.60" width="1.1" height="3.1" fill="#1a1a1a"/>
<text x="0" y="0" font-size="10" text-anchor="end" fill="#111" stroke="#111" stroke-width="0.25" transform="translate(112.34 530.20) rotate(-90) scale(0.44)" dy="3.6">T.A</text>
<rect x="116.12" y="523.60" width="1.1" height="3.1" fill="#1a1a1a"/>
<text x="0" y="0" font-size="10" text-anchor="end" fill="#111" stroke="#111" stroke-width="0.25" transform="translate(116.67 530.20) rotate(-90) scale(0.44)" dy="3.6">T.C</text>
<rect x="120.45" y="523.60" width="1.1" height="3.1" fill="#1a1a1a"/>
<text x="0" y="0" font-size="10" text-anchor="end" fill="#111" stroke="#111" stroke-width="0.25" transform="translate(121.00 530.20) rotate(-90) scale(0.44)" dy="3.6">T.G</text>
<rect x="124.78" y="523.60" width="1.1" height="3.1" fill="#1a1a1a"/>
<text x="0" y="0" font-size="10" text-anchor="end" fill="#111" stroke="#111" stroke-width="0.25" transform="translate(125.33 530.20) rotate(-90) scale(0.44)" dy="3.6">T.T</text>
<rect x="129.12" y="523.60" width="1.1" height="3.1" fill="#1a1a1a"/>
<text x="0" y="0" font-size="10" text-anchor="end" fill="#111" stroke="#111" stroke-width="0.25" transform="translate(129.67 530.20) rotate(-90) scale(0.44)" dy="3.6">A.A</text>
<rect x="133.45" y="523.60" width="1.1" height="3.1" fill="#1a1a1a"/>
<text x="0" y="0" font-size="10" text-anchor="end" fill="#111" stroke="#111" stroke-width="0.25" transform="translate(134.00 530.20) rotate(-90) scale(0.44)" dy="3.6">A.C</text>
<rect x="137.78" y="523.60" width="1.1" height="3.1" fill="#1a1a1a"/>
<text x="0" y="0" font-size="10" text-anchor="end" fill="#111" stroke="#111" stroke-width="0.25" transform="translate(138.33 530.20) rotate(-90) scale(0.44)" dy="3.6">A.G</text>
<rect x="142.11" y="523.60" width="1.1" height="3.1" fill="#1a1a1a"/>
<text x="0" y="0" font-size="10" text-anchor="end" fill="#111" stroke="#111" stroke-width="0.25" transform="translate(142.66 530.20) rotate(-90) scale(0.44)" dy="3.6">A.T</text>
<rect x="146.44" y="523.60" width="1.1" height="3.1" fill="#1a1a1a"/>
<text x="0" y="0" font-size="10" text-anchor="end" fill="#111" stroke="#111" stroke-width="0.25" transform="translate(146.99 530.20) rotate(-90) scale(0.44)" dy="3.6">C.A</text>
<rect x="150.77" y="523.60" width="1.1" height="3.1" fill="#1a1a1a"/>
<text x="0" y="0" font-size="10" text-anchor="end" fill="#111" stroke="#111" stroke-width="0.25" transform="translate(151.32 530.20) rotate(-90) scale(0.44)" dy="3.6">C.C</text>
<rect x="155.10" y="523.60" width="1.1" height="3.1" fill="#1a1a1a"/>
<text x="0" y="0" font-size="10" text-anchor="end" fill="#111" stroke="#111" stroke-width="0.25" transform="translate(155.65 530.20) rotate(-90) scale(0.44)" dy="3.6">C.G</text>
<rect x="159.43" y="523.60" width="1.1" height="3.1" fill="#1a1a1a"/>
<text x="0" y="0" font-size="10" text-anchor="end" fill="#111" stroke="#111" stroke-width="0.25" transform="translate(159.98 530.20) rotate(-90) scale(0.44)" dy="3.6">C.T</text>
<rect x="163.77" y="523.60" width="1.1" height="3.1" fill="#1a1a1a"/>
<text x="0" y="0" font-size="10" text-anchor="end" fill="#111" stroke="#111" stroke-width="0.25" transform="translate(164.32 530.20) rotate(-90) scale(0.44)" dy="3.6">G.A</text>
<rect x="168.10" y="523.60" width="1.1" height="3.1" fill="#1a1a1a"/>
<text x="0" y="0" font-size="10" text-anchor="end" fill="#111" stroke="#111" stroke-width="0.25" transform="translate(168.65 530.20) rotate(-90) scale(0.44)" dy="3.6">G.C</text>
<rect x="172.43" y="523.60" width="1.1" height="3.1" fill="#1a1a1a"/>
<text x="0" y="0" font-size="10" text-anchor="end" fill="#111" stroke="#111" stroke-width="0.25" transform="translate(172.98 530.20) rotate(-90) scale(0.44)" dy="3.6">G.G</text>
<rect x="176.76" y="523.60" width="1.1" height="3.1" fill="#1a1a1a"/>
<text x="0" y="0" font-size="10" text-anchor="end" fill="#111" stroke="#111" stroke-width="0.25" transform="translate(177.31 530.20) rotate(-90) scale(0.44)" dy="3.6">G.T</text>
<rect x="181.09" y="523.60" width="1.1" height="3.1" fill="#1a1a1a"/>
<text x="0" y="0" font-size="10" text-anchor="end" fill="#111" stroke="#111" stroke-width="0.25" transform="translate(181.64 530.20) rotate(-90) scale(0.44)" dy="3.6">T.A</text>
<rect x="185.42" y="523.60" width="1.1" height="3.1" fill="#1a1a1a"/>
<text x="0" y="0" font-size="10" text-anchor="end" fill="#111" stroke="#111" stroke-width="0.25" transform="translate(185.97 530.20) rotate(-90) scale(0.44)" dy="3.6">T.C</text>
<rect x="189.75" y="523.60" width="1.1" height="3.1" fill="#1a1a1a"/>
<text x="0" y="0" font-size="10" text-anchor="end" fill="#111" stroke="#111" stroke-width="0.25" transform="translate(190.30 530.20) rotate(-90) scale(0.44)" dy="3.6">T.G</text>
<rect x="194.08" y="523.60" width="1.1" height="3.1" fill="#1a1a1a"/>
<text x="0" y="0" font-size="10" text-anchor="end" fill="#111" stroke="#111" stroke-width="0.25" transform="translate(194.63 530.20) rotate(-90) scale(0.44)" dy="3.6">T.T</text>
<rect x="198.42" y="523.60" width="1.1" height="3.1" fill="#1a1a1a"/>
<text x="0" y="0" font-size="10" text-anchor="end" fill="#111" stroke="#111" stroke-width="0.25" transform="translate(198.97 530.20) rotate(-90) scale(0.44)" dy="3.6">A.A</text>
<rect x="202.75" y="523.60" width="1.1" height="3.1" fill="#1a1a1a"/>
<text x="0" y="0" font-size="10" text-anchor="end" fill="#111" stroke="#111" stroke-width="0.25" transform="translate(203.30 530.20) rotate(-90) scale(0.44)" dy="3.6">A.C</text>
<rect x="207.08" y="523.60" width="1.1" height="3.1" fill="#1a1a1a"/>
<text x="0" y="0" font-size="10" text-anchor="end" fill="#111" stroke="#111" stroke-width="0.25" transform="translate(207.63 530.20) rotate(-90) scale(0.44)" dy="3.6">A.G</text>
<rect x="211.41" y="523.60" width="1.1" height="3.1" fill="#1a1a1a"/>
<text x="0" y="0" font-size="10" text-anchor="end" fill="#111" stroke="#111" stroke-width="0.25" transform="translate(211.96 530.20) rotate(-90) scale(0.44)" dy="3.6">A.T</text>
<rect x="215.74" y="523.60" width="1.1" height="3.1" fill="#1a1a1a"/>
<text x="0" y="0" font-size="10" text-anchor="end" fill="#111" stroke="#111" stroke-width="0.25" transform="translate(216.29 530.20) rotate(-90) scale(0.44)" dy="3.6">C.A</text>
<rect x="220.07" y="523.60" width="1.1" height="3.1" fill="#1a1a1a"/>
<text x="0" y="0" font-size="10" text-anchor="end" fill="#111" stroke="#111" stroke-width="0.25" transform="translate(220.62 530.20) rotate(-90) scale(0.44)" dy="3.6">C.C</text>
<rect x="224.40" y="523.60" width="1.1" height="3.1" fill="#1a1a1a"/>
<text x="0" y="0" font-size="10" text-anchor="end" fill="#111" stroke="#111" stroke-width="0.25" transform="translate(224.95 530.20) rotate(-90) scale(0.44)" dy="3.6">C.G</text>
<rect x="228.73" y="523.60" width="1.1" height="3.1" fill="#1a1a1a"/>
<text x="0" y="0" font-size="10" text-anchor="end" fill="#111" stroke="#111" stroke-width="0.25" transform="translate(229.28 530.20) rotate(-90) scale(0.44)" dy="3.6">C.T</text>
<rect x="233.07" y="523.60" width="1.1" height="3.1" fill="#1a1a1a"/>
<text x="0" y="0" font-size="10" text-anchor="end" fill="#111" stroke="#111" stroke-width="0.25" transform="translate(233.62 530.20) rotate(-90) scale(0.44)" dy="3.6">G.A</text>
<rect x="237.40" y="523.60" width="1.1" height="3.1" fill="#1a1a1a"/>
<text x="0" y="0" font-size="10" text-anchor="end" fill="#111" stroke="#111" stroke-width="0.25" transform="translate(237.95 530.20) rotate(-90) scale(0.44)" dy="3.6">G.C</text>
<rect x="241.73" y="523.60" width="1.1" height="3.1" fill="#1a1a1a"/>
<text x="0" y="0" font-size="10" text-anchor="end" fill="#111" stroke="#111" stroke-width="0.25" transform="translate(242.28 530.20) rotate(-90) scale(0.44)" dy="3.6">G.G</text>
<rect x="246.06" y="523.60" width="1.1" height="3.1" fill="#1a1a1a"/>
<text x="0" y="0" font-size="10" text-anchor="end" fill="#111" stroke="#111" stroke-width="0.25" transform="translate(246.61 530.20) rotate(-90) scale(0.44)" dy="3.6">G.T</text>
<rect x="250.39" y="523.60" width="1.1" height="3.1" fill="#1a1a1a"/>
<text x="0" y="0" font-size="10" text-anchor="end" fill="#111" stroke="#111" stroke-width="0.25" transform="translate(250.94 530.20) rotate(-90) scale(0.44)" dy="3.6">T.A</text>
<rect x="254.72" y="523.60" width="1.1" height="3.1" fill="#1a1a1a"/>
<text x="0" y="0" font-size="10" text-anchor="end" fill="#111" stroke="#111" stroke-width="0.25" transform="translate(255.27 530.20) rotate(-90) scale(0.44)" dy="3.6">T.C</text>
<rect x="259.05" y="523.60" width="1.1" height="3.1" fill="#1a1a1a"/>
<text x="0" y="0" font-size="10" text-anchor="end" fill="#111" stroke="#111" stroke-width="0.25" transform="translate(259.60 530.20) rotate(-90) scale(0.44)" dy="3.6">T.G</text>
<rect x="263.38" y="523.60" width="1.1" height="3.1" fill="#1a1a1a"/>
<text x="0" y="0" font-size="10" text-anchor="end" fill="#111" stroke="#111" stroke-width="0.25" transform="translate(263.93 530.20) rotate(-90) scale(0.44)" dy="3.6">T.T</text>
<rect x="267.72" y="523.60" width="1.1" height="3.1" fill="#1a1a1a"/>
<text x="0" y="0" font-size="10" text-anchor="end" fill="#111" stroke="#111" stroke-width="0.25" transform="translate(268.27 530.20) rotate(-90) scale(0.44)" dy="3.6">A.A</text>
<rect x="272.05" y="523.60" width="1.1" height="3.1" fill="#1a1a1a"/>
<text x="0" y="0" font-size="10" text-anchor="end" fill="#111" stroke="#111" stroke-width="0.25" transform="translate(272.60 530.20) rotate(-90) scale(0.44)" dy="3.6">A.C</text>
<rect x="276.38" y="523.60" width="1.1" height="3.1" fill="#1a1a1a"/>
<text x="0" y="0" font-size="10" text-anchor="end" fill="#111" stroke="#111" stroke-width="0.25" transform="translate(276.93 530.20) rotate(-90) scale(0.44)" dy="3.6">A.G</text>
<rect x="280.71" y="523.60" width="1.1" height="3.1" fill="#1a1a1a"/>
<text x="0" y="0" font-size="10" text-anchor="end" fill="#111" stroke="#111" stroke-width="0.25" transform="translate(281.26 530.20) rotate(-90) scale(0.44)" dy="3.6">A.T</text>
<rect x="285.04" y="523.60" width="1.1" height="3.1" fill="#1a1a1a"/>
<text x="0" y="0" font-size="10" text-anchor="end" fill="#111" stroke="#111" stroke-width="0.25" transform="translate(285.59 530.20) rotate(-90) scale(0.44)" dy="3.6">C.A</text>
<rect x="289.37" y="523.60" width="1.1" height="3.1" fill="#1a1a1a"/>
<text x="0" y="0" font-size="10" text-anchor="end" fill="#111" stroke="#111" stroke-width="0.25" transform="translate(289.92 530.20) rotate(-90) scale(0.44)" dy="3.6">C.C</text>
<rect x="293.70" y="523.60" width="1.1" height="3.1" fill="#1a1a1a"/>
<text x="0" y="0" font-size="10" text-anchor="end" fill="#111" stroke="#111" stroke-width="0.25" transform="translate(294.25 530.20) rotate(-90) scale(0.44)" dy="3.6">C.G</text>
<rect x="298.03" y="523.60" width="1.1" height="3.1" fill="#1a1a1a"/>
<text x="0" y="0" font-size="10" text-anchor="end" fill="#111" stroke="#111" stroke-width="0.25" transform="translate(298.58 530.20) rotate(-90) scale(0.44)" dy="3.6">C.T</text>
<rect x="302.37" y="523.60" width="1.1" height="3.1" fill="#1a1a1a"/>
<text x="0" y="0" font-size="10" text-anchor="end" fill="#111" stroke="#111" stroke-width="0.25" transform="translate(302.92 530.20) rotate(-90) scale(0.44)" dy="3.6">G.A</text>
<rect x="306.70" y="523.60" width="1.1" height="3.1" fill="#1a1a1a"/>
<text x="0" y="0" font-size="10" text-anchor="end" fill="#111" stroke="#111" stroke-width="0.25" transform="translate(307.25 530.20) rotate(-90) scale(0.44)" dy="3.6">G.C</text>
<rect x="311.03" y="523.60" width="1.1" height="3.1" fill="#1a1a1a"/>
<text x="0" y="0" font-size="10" text-anchor="end" fill="#111" stroke="#111" stroke-width="0.25" transform="translate(311.58 530.20) rotate(-90) scale(0.44)" dy="3.6">G.G</text>
<rect x="315.36" y="523.60" width="1.1" height="3.1" fill="#1a1a1a"/>
<text x="0" y="0" font-size="10" text-anchor="end" fill="#111" stroke="#111" stroke-width="0.25" transform="translate(315.91 530.20) rotate(-90) scale(0.44)" dy="3.6">G.T</text>
<rect x="319.69" y="523.60" width="1.1" height="3.1" fill="#1a1a1a"/>
<text x="0" y="0" font-size="10" text-anchor="end" fill="#111" stroke="#111" stroke-width="0.25" transform="translate(320.24 530.20) rotate(-90) scale(0.44)" dy="3.6">T.A</text>
<rect x="324.02" y="523.60" width="1.1" height="3.1" fill="#1a1a1a"/>
<text x="0" y="0" font-size="10" text-anchor="end" fill="#111" stroke="#111" stroke-width="0.25" transform="translate(324.57 530.20) rotate(-90) scale(0.44)" dy="3.6">T.C</text>
<rect x="328.35" y="523.60" width="1.1" height="3.1" fill="#1a1a1a"/>
<text x="0" y="0" font-size="10" text-anchor="end" fill="#111" stroke="#111" stroke-width="0.25" transform="translate(328.90 530.20) rotate(-90) scale(0.44)" dy="3.6">T.G</text>
<rect x="332.68" y="523.60" width="1.1" height="3.1" fill="#1a1a1a"/>
<text x="0" y="0" font-size="10" text-anchor="end" fill="#111" stroke="#111" stroke-width="0.25" transform="translate(333.23 530.20) rotate(-90) scale(0.44)" dy="3.6">T.T</text>
<rect x="337.02" y="523.60" width="1.1" height="3.1" fill="#1a1a1a"/>
<text x="0" y="0" font-size="10" text-anchor="end" fill="#111" stroke="#111" stroke-width="0.25" transform="translate(337.57 530.20) rotate(-90) scale(0.44)" dy="3.6">A.A</text>
<rect x="341.35" y="523.60" width="1.1" height="3.1" fill="#1a1a1a"/>
<text x="0" y="0" font-size="10" text-anchor="end" fill="#111" stroke="#111" stroke-width="0.25" transform="translate(341.90 530.20) rotate(-90) scale(0.44)" dy="3.6">A.C</text>
<rect x="345.68" y="523.60" width="1.1" height="3.1" fill="#1a1a1a"/>
<text x="0" y="0" font-size="10" text-anchor="end" fill="#111" stroke="#111" stroke-width="0.25" transform="translate(346.23 530.20) rotate(-90) scale(0.44)" dy="3.6">A.G</text>
<rect x="350.01" y="523.60" width="1.1" height="3.1" fill="#1a1a1a"/>
<text x="0" y="0" font-size="10" text-anchor="end" fill="#111" stroke="#111" stroke-width="0.25" transform="translate(350.56 530.20) rotate(-90) scale(0.44)" dy="3.6">A.T</text>
<rect x="354.34" y="523.60" width="1.1" height="3.1" fill="#1a1a1a"/>
<text x="0" y="0" font-size="10" text-anchor="end" fill="#111" stroke="#111" stroke-width="0.25" transform="translate(354.89 530.20) rotate(-90) scale(0.44)" dy="3.6">C.A</text>
<rect x="358.67" y="523.60" width="1.1" height="3.1" fill="#1a1a1a"/>
<text x="0" y="0" font-size="10" text-anchor="end" fill="#111" stroke="#111" stroke-width="0.25" transform="translate(359.22 530.20) rotate(-90) scale(0.44)" dy="3.6">C.C</text>
<rect x="363.00" y="523.60" width="1.1" height="3.1" fill="#1a1a1a"/>
<text x="0" y="0" font-size="10" text-anchor="end" fill="#111" stroke="#111" stroke-width="0.25" transform="translate(363.55 530.20) rotate(-90) scale(0.44)" dy="3.6">C.G</text>
<rect x="367.33" y="523.60" width="1.1" height="3.1" fill="#1a1a1a"/>
<text x="0" y="0" font-size="10" text-anchor="end" fill="#111" stroke="#111" stroke-width="0.25" transform="translate(367.88 530.20) rotate(-90) scale(0.44)" dy="3.6">C.T</text>
<rect x="371.67" y="523.60" width="1.1" height="3.1" fill="#1a1a1a"/>
<text x="0" y="0" font-size="10" text-anchor="end" fill="#111" stroke="#111" stroke-width="0.25" transform="translate(372.22 530.20) rotate(-90) scale(0.44)" dy="3.6">G.A</text>
<rect x="376.00" y="523.60" width="1.1" height="3.1" fill="#1a1a1a"/>
<text x="0" y="0" font-size="10" text-anchor="end" fill="#111" stroke="#111" stroke-width="0.25" transform="translate(376.55 530.20) rotate(-90) scale(0.44)" dy="3.6">G.C</text>
<rect x="380.33" y="523.60" width="1.1" height="3.1" fill="#1a1a1a"/>
<text x="0" y="0" font-size="10" text-anchor="end" fill="#111" stroke="#111" stroke-width="0.25" transform="translate(380.88 530.20) rotate(-90) scale(0.44)" dy="3.6">G.G</text>
<rect x="384.66" y="523.60" width="1.1" height="3.1" fill="#1a1a1a"/>
<text x="0" y="0" font-size="10" text-anchor="end" fill="#111" stroke="#111" stroke-width="0.25" transform="translate(385.21 530.20) rotate(-90) scale(0.44)" dy="3.6">G.T</text>
<rect x="388.99" y="523.60" width="1.1" height="3.1" fill="#1a1a1a"/>
<text x="0" y="0" font-size="10" text-anchor="end" fill="#111" stroke="#111" stroke-width="0.25" transform="translate(389.54 530.20) rotate(-90) scale(0.44)" dy="3.6">T.A</text>
<rect x="393.32" y="523.60" width="1.1" height="3.1" fill="#1a1a1a"/>
<text x="0" y="0" font-size="10" text-anchor="end" fill="#111" stroke="#111" stroke-width="0.25" transform="translate(393.87 530.20) rotate(-90) scale(0.44)" dy="3.6">T.C</text>
<rect x="397.65" y="523.60" width="1.1" height="3.1" fill="#1a1a1a"/>
<text x="0" y="0" font-size="10" text-anchor="end" fill="#111" stroke="#111" stroke-width="0.25" transform="translate(398.20 530.20) rotate(-90) scale(0.44)" dy="3.6">T.G</text>
<rect x="401.98" y="523.60" width="1.1" height="3.1" fill="#1a1a1a"/>
<text x="0" y="0" font-size="10" text-anchor="end" fill="#111" stroke="#111" stroke-width="0.25" transform="translate(402.53 530.20) rotate(-90) scale(0.44)" dy="3.6">T.T</text>
<rect x="406.32" y="523.60" width="1.1" height="3.1" fill="#1a1a1a"/>
<text x="0" y="0" font-size="10" text-anchor="end" fill="#111" stroke="#111" stroke-width="0.25" transform="translate(406.87 530.20) rotate(-90) scale(0.44)" dy="3.6">A.A</text>
<rect x="410.65" y="523.60" width="1.1" height="3.1" fill="#1a1a1a"/>
<text x="0" y="0" font-size="10" text-anchor="end" fill="#111" stroke="#111" stroke-width="0.25" transform="translate(411.20 530.20) rotate(-90) scale(0.44)" dy="3.6">A.C</text>
<rect x="414.98" y="523.60" width="1.1" height="3.1" fill="#1a1a1a"/>
<text x="0" y="0" font-size="10" text-anchor="end" fill="#111" stroke="#111" stroke-width="0.25" transform="translate(415.53 530.20) rotate(-90) scale(0.44)" dy="3.6">A.G</text>
<rect x="419.31" y="523.60" width="1.1" height="3.1" fill="#1a1a1a"/>
<text x="0" y="0" font-size="10" text-anchor="end" fill="#111" stroke="#111" stroke-width="0.25" transform="translate(419.86 530.20) rotate(-90) scale(0.44)" dy="3.6">A.T</text>
<rect x="423.64" y="523.60" width="1.1" height="3.1" fill="#1a1a1a"/>
<text x="0" y="0" font-size="10" text-anchor="end" fill="#111" stroke="#111" stroke-width="0.25" transform="translate(424.19 530.20) rotate(-90) scale(0.44)" dy="3.6">C.A</text>
<rect x="427.97" y="523.60" width="1.1" height="3.1" fill="#1a1a1a"/>
<text x="0" y="0" font-size="10" text-anchor="end" fill="#111" stroke="#111" stroke-width="0.25" transform="translate(428.52 530.20) rotate(-90) scale(0.44)" dy="3.6">C.C</text>
<rect x="432.30" y="523.60" width="1.1" height="3.1" fill="#1a1a1a"/>
<text x="0" y="0" font-size="10" text-anchor="end" fill="#111" stroke="#111" stroke-width="0.25" transform="translate(432.85 530.20) rotate(-90) scale(0.44)" dy="3.6">C.G</text>
<rect x="436.63" y="523.60" width="1.1" height="3.1" fill="#1a1a1a"/>
<text x="0" y="0" font-size="10" text-anchor="end" fill="#111" stroke="#111" stroke-width="0.25" transform="translate(437.18 530.20) rotate(-90) scale(0.44)" dy="3.6">C.T</text>
<rect x="440.97" y="523.60" width="1.1" height="3.1" fill="#1a1a1a"/>
<text x="0" y="0" font-size="10" text-anchor="end" fill="#111" stroke="#111" stroke-width="0.25" transform="translate(441.52 530.20) rotate(-90) scale(0.44)" dy="3.6">G.A</text>
<rect x="445.30" y="523.60" width="1.1" height="3.1" fill="#1a1a1a"/>
<text x="0" y="0" font-size="10" text-anchor="end" fill="#111" stroke="#111" stroke-width="0.25" transform="translate(445.85 530.20) rotate(-90) scale(0.44)" dy="3.6">G.C</text>
<rect x="449.63" y="523.60" width="1.1" height="3.1" fill="#1a1a1a"/>
<text x="0" y="0" font-size="10" text-anchor="end" fill="#111" stroke="#111" stroke-width="0.25" transform="translate(450.18 530.20) rotate(-90) scale(0.44)" dy="3.6">G.G</text>
<rect x="453.96" y="523.60" width="1.1" height="3.1" fill="#1a1a1a"/>
<text x="0" y="0" font-size="10" text-anchor="end" fill="#111" stroke="#111" stroke-width="0.25" transform="translate(454.51 530.20) rotate(-90) scale(0.44)" dy="3.6">G.T</text>
<rect x="458.29" y="523.60" width="1.1" height="3.1" fill="#1a1a1a"/>
<text x="0" y="0" font-size="10" text-anchor="end" fill="#111" stroke="#111" stroke-width="0.25" transform="translate(458.84 530.20) rotate(-90) scale(0.44)" dy="3.6">T.A</text>
<rect x="462.62" y="523.60" width="1.1" height="3.1" fill="#1a1a1a"/>
<text x="0" y="0" font-size="10" text-anchor="end" fill="#111" stroke="#111" stroke-width="0.25" transform="translate(463.17 530.20) rotate(-90) scale(0.44)" dy="3.6">T.C</text>
<rect x="466.95" y="523.60" width="1.1" height="3.1" fill="#1a1a1a"/>
<text x="0" y="0" font-size="10" text-anchor="end" fill="#111" stroke="#111" stroke-width="0.25" transform="translate(467.50 530.20) rotate(-90) scale(0.44)" dy="3.6">T.G</text>
<rect x="471.28" y="523.60" width="1.1" height="3.1" fill="#1a1a1a"/>
<text x="0" y="0" font-size="10" text-anchor="end" fill="#111" stroke="#111" stroke-width="0.25" transform="translate(471.83 530.20) rotate(-90) scale(0.44)" dy="3.6">T.T</text>
<text x="8.3" y="566.8" font-size="14.1" text-anchor="start" font-weight="bold" fill="#000" stroke="#000" stroke-width="0.55">C</text>
<rect x="57.5" y="556.9" width="1.2" height="157.5" fill="#1a1a1a"/>
<rect x="57.5" y="713.2" width="235.6" height="1.2" fill="#1a1a1a"/>
<rect x="54.6" y="706.12" width="3" height="1.1" fill="#333"/>
<text x="50.8" y="709.57" font-size="9" text-anchor="end" font-weight="normal" fill="#111" >0.0</text>
<rect x="54.6" y="674.33" width="3" height="1.1" fill="#333"/>
<text x="50.8" y="677.78" font-size="9" text-anchor="end" font-weight="normal" fill="#111" >0.1</text>
<rect x="54.6" y="642.54" width="3" height="1.1" fill="#333"/>
<text x="50.8" y="645.99" font-size="9" text-anchor="end" font-weight="normal" fill="#111" >0.2</text>
<rect x="54.6" y="610.75" width="3" height="1.1" fill="#333"/>
<text x="50.8" y="614.2" font-size="9" text-anchor="end" font-weight="normal" fill="#111" >0.3</text>
<rect x="54.6" y="578.96" width="3" height="1.1" fill="#333"/>
<text x="50.8" y="582.41" font-size="9" text-anchor="end" font-weight="normal" fill="#111" >0.4</text>
<rect x="121.25" y="714" width="1.1" height="2.6" fill="#333"/>
<rect x="228.55" y="714" width="1.1" height="2.6" fill="#333"/>
<text x="122.6" y="728.8" font-size="8.8" text-anchor="middle" font-weight="normal" fill="#111" >No</text>
<text x="229" y="728.8" font-size="8.8" text-anchor="middle" font-weight="normal" fill="#111" >Yes</text>
<text x="280" y="726.2" font-size="8.8" text-anchor="middle" font-weight="normal" fill="#111" >(t test)</text>
<text x="174.8" y="744.6" font-size="11" font-weight="bold" text-anchor="middle" fill="#111" textLength="158" lengthAdjust="spacingAndGlyphs">Autologous transplantation (PRE−SAMPLING)</text>
<text x="32" y="635.1" font-size="12.2" font-weight="bold" text-anchor="middle" fill="#111" transform="rotate(-90 32 635.1)" textLength="68" lengthAdjust="spacingAndGlyphs">Sig.MM1 proportion</text>
<path d="M122.3 580 V576.6 H229 V580" fill="none" stroke="#222" stroke-width="1.1"/>
<text x="175.7" y="573.2" font-size="8.8" text-anchor="middle" font-weight="normal" fill="#111" >0.022</text>
<path d="M122.1 627.2 V644.1 M122.1 698.3 V706.6" stroke="#314d88" stroke-width="1.1" fill="none"/>
<rect x="85.0" y="644.1" width="75.0" height="54.2" fill="none" stroke="#314d88" stroke-width="1.1"/>
<path d="M85.0 659.6 H160.0" stroke="#314d88" stroke-width="1.3"/>
<path d="M229.1 583.1 V600.1 M229.1 643.2 V706.1" stroke="#ecc043" stroke-width="1.1" fill="none"/>
<rect x="191.7" y="600.1" width="74.6" height="43.1" fill="none" stroke="#ecc043" stroke-width="1.1"/>
<path d="M191.7 615.9 H266.3" stroke="#ecc043" stroke-width="1.3"/>
<circle cx="136.6" cy="626.5" r="1.3" fill="#9898a2"/>
<circle cx="131.5" cy="629.3" r="1.3" fill="#9898a2"/>
<circle cx="114.2" cy="634.6" r="1.3" fill="#9898a2"/>
<circle cx="101.5" cy="642.2" r="1.3" fill="#9898a2"/>
<circle cx="109.6" cy="649.2" r="1.3" fill="#9898a2"/>
<circle cx="111.9" cy="654.5" r="1.3" fill="#9898a2"/>
<circle cx="130.4" cy="655.4" r="1.3" fill="#9898a2"/>
<circle cx="104.3" cy="663" r="1.3" fill="#9898a2"/>
<circle cx="101.1" cy="665.1" r="1.3" fill="#9898a2"/>
<circle cx="121.6" cy="672.7" r="1.3" fill="#9898a2"/>
<circle cx="124.6" cy="706.6" r="1.3" fill="#9898a2"/>
<circle cx="129.2" cy="706.6" r="1.3" fill="#9898a2"/>
<circle cx="136.6" cy="706.6" r="1.3" fill="#9898a2"/>
<circle cx="143.5" cy="706.6" r="1.3" fill="#9898a2"/>
<circle cx="248.5" cy="583.1" r="1.3" fill="#9898a2"/>
<circle cx="229.5" cy="585.8" r="1.3" fill="#9898a2"/>
<circle cx="224.7" cy="591.8" r="1.3" fill="#9898a2"/>
<circle cx="221.2" cy="602.7" r="1.3" fill="#9898a2"/>
<circle cx="221.2" cy="606.6" r="1.3" fill="#9898a2"/>
<circle cx="209.7" cy="611.2" r="1.3" fill="#9898a2"/>
<circle cx="242.7" cy="620.9" r="1.3" fill="#9898a2"/>
<circle cx="246.2" cy="621.9" r="1.3" fill="#9898a2"/>
<circle cx="210.8" cy="634.3" r="1.3" fill="#9898a2"/>
<circle cx="231.8" cy="670.1" r="1.3" fill="#9898a2"/>
<circle cx="213.4" cy="706.5" r="1.3" fill="#9898a2"/>
<circle cx="248.9" cy="706.5" r="1.3" fill="#9898a2"/>
<rect x="0" y="0" width="520" height="1.3" fill="#000"/>
<rect x="0" y="0" width="1.2" height="756" fill="#000"/>
<rect x="518.8" y="0" width="1.2" height="756" fill="#000"/>
<rect x="0" y="754.4" width="520" height="1.6" fill="#000"/>
</svg>
</body></html>
